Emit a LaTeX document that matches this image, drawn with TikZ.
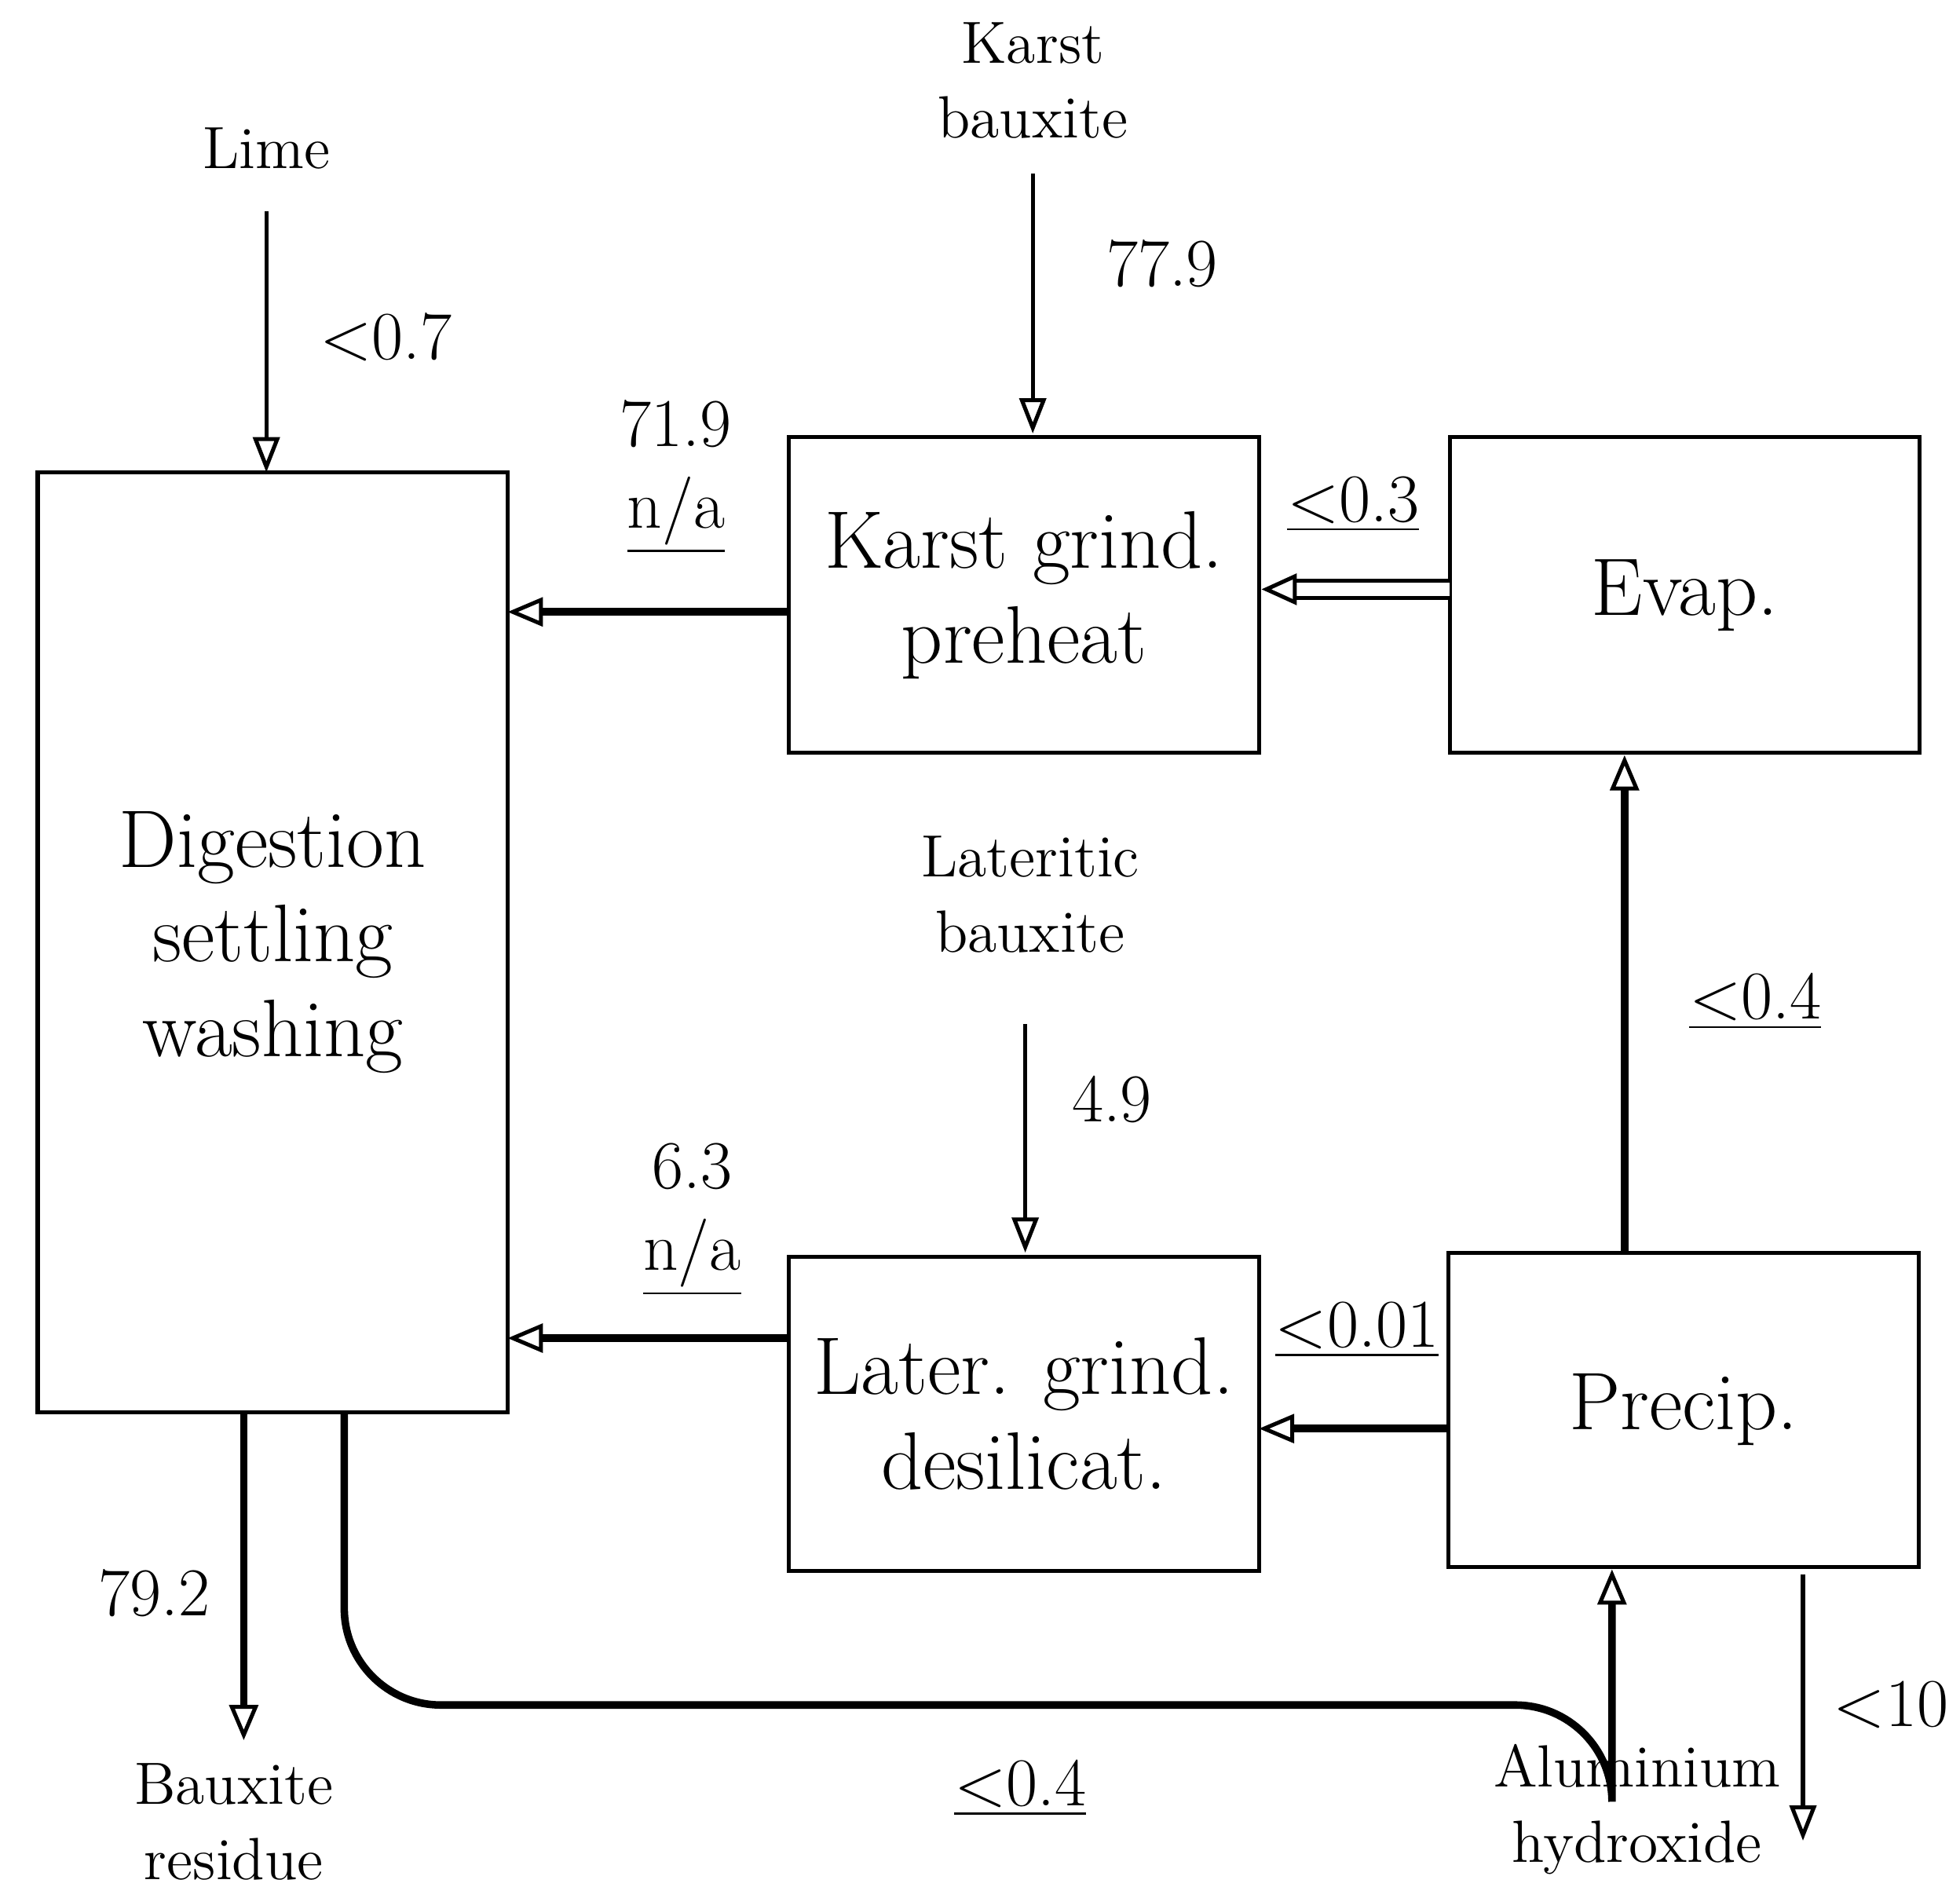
\documentclass[tikz,border=0pt]{standalone}
\usetikzlibrary{arrows.meta}
\begin{document}
\begin{tikzpicture}[x=0.1mm,y=-0.1mm,
 box/.style={draw,line width=0.9pt},
 big/.style={font=\fontsize{18.5}{21.5}\selectfont,align=center},
 num/.style={font=\fontsize{15.5}{19}\selectfont,align=center},
 lab/.style={font=\fontsize{13.5}{17}\selectfont,align=center},
 thin/.style={line width=0.9pt,-{Triangle[open,length=8pt,width=6pt]}},
 thick/.style={line width=1.7pt,-{Triangle[open,length=8pt,width=6.5pt,line width=0.9pt]}}]
\useasboundingbox (0,0) rectangle (1560,1510);
\draw[box] (30,376) rectangle (404,1124);
\draw[box] (628,348) rectangle (1002,599);
\draw[box] (1154,348) rectangle (1528,599);
\draw[box] (628,1000) rectangle (1002,1250);
\draw[box] (1153,997) rectangle (1527,1247);
\node[big] (dig) at (217,750) {Digestion\\settling\\washing};
\node[big] (kg) at (815,474) {Karst grind.\\preheat};
\node[big] (ev) at (1341,474) {Evap.};
\node[big] (lg) at (815,1125) {Later. grind.\\desilicat.};
\node[big] (pr) at (1340,1122) {Precip.};
\node[lab] (lime) at (212,118) {Lime};
\node[lab] (kb) at (822,64) {Karst\\bauxite};
\node[lab] (lb) at (820,712) {Lateritic\\bauxite};
\node[lab] (br) at (186,1450) {Bauxite\\residue};
\node[lab] (ah) at (1303,1440) {Aluminium\\hydroxide};
\coordinate (l0) at (212,168); \coordinate (l1) at (212,376);
\coordinate (k0) at (822,138); \coordinate (k1) at (822,345);
\coordinate (t0) at (816,815); \coordinate (t1) at (816,997);
\draw[thin] (l0) -- (l1);
\draw[thin] (k0) -- (k1);
\draw[thin] (t0) -- (t1);
\draw[thick] (628,487) -- (404,487);
\draw[thick] (628,1065) -- (404,1065);
\draw[thick] (1153,1137) -- (1002,1137);
\draw[thick] (1293,997) -- (1293,601);
\draw[thick] (194,1124) -- (194,1385);
\draw[thick] (274,1124) -- (274,1280) arc[start angle=180,end angle=90,radius=77] -- (1206,1357) arc[start angle=270,end angle=360,radius=77] -- (1283,1249);
\draw[line width=0.9pt,double,double distance=3pt,-{Triangle[open,length=8pt,width=7pt]}] (1154,469) -- (1004,469);
\draw[thin] (1435,1253) -- (1435,1465);
\node[num] at (307,268) {<0.7};
\node[num] at (925,210) {77.9};
\node[num,anchor=base] at (538,355) {71.9};
\node[num,anchor=base] at (538,420) {\underline{n/a}};
\node[num,anchor=base] at (1077,415) {\underline{<0.3}};
\node[num] at (1397,797) {\underline{<0.4}};
\node[num] at (885,875) {4.9};
\node[num,anchor=base] at (551,946) {6.3};
\node[num,anchor=base] at (551,1011) {\underline{n/a}};
\node[num,anchor=base] at (1080,1072) {\underline{<0.01}};
\node[num] at (123,1268) {79.2};
\node[num] at (812,1423) {\underline{<0.4}};
\node[num] at (1505,1357) {<10};
\end{tikzpicture}
\end{document}
